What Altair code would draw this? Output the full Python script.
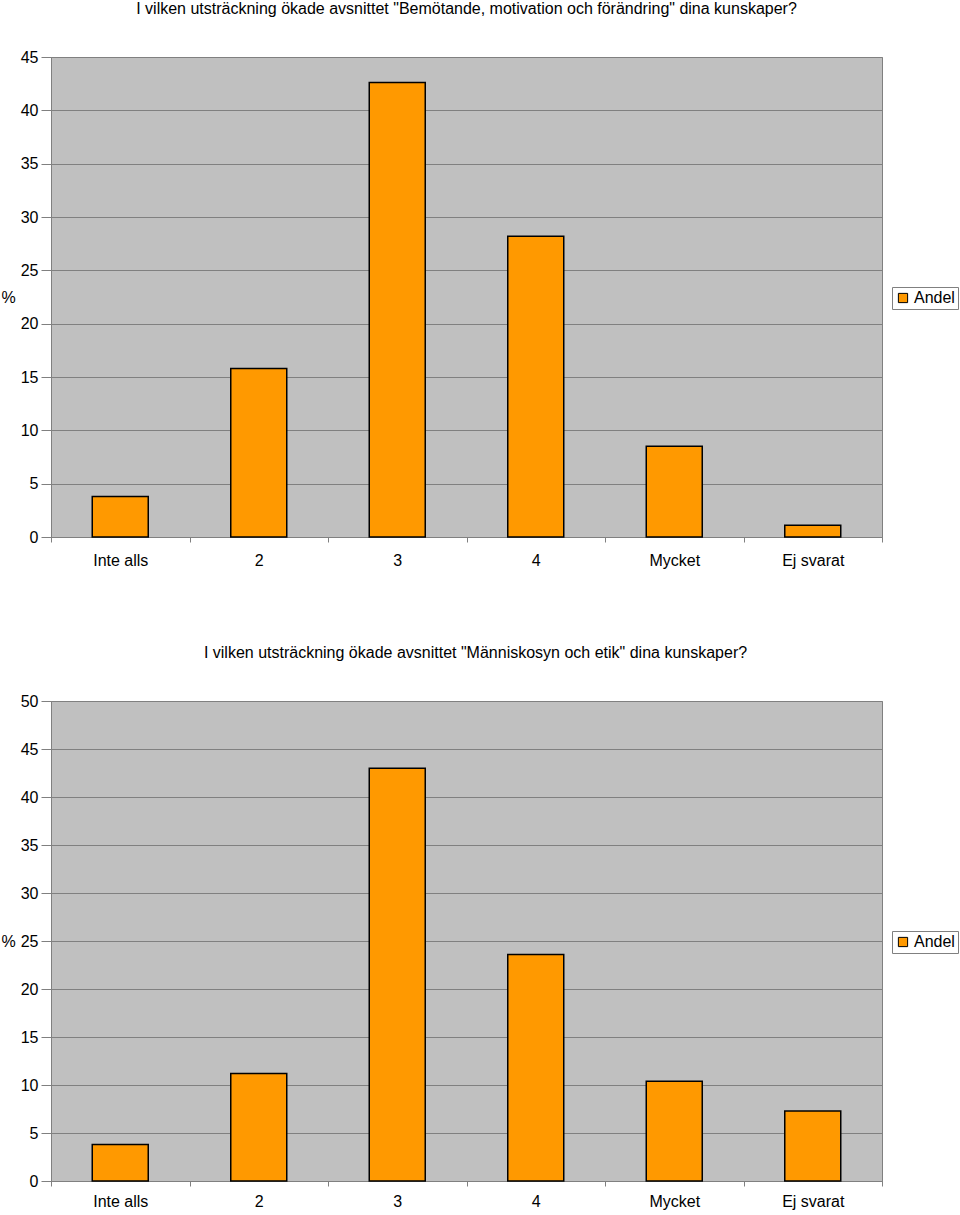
import altair as alt
import pandas as pd

categories = ["Inte alls", "2", "3", "4", "Mycket", "Ej svarat"]
andel_1 = [3.8, 15.8, 42.6, 28.2, 8.5, 1.1]
andel_2 = [3.8, 11.2, 43.0, 23.6, 10.4, 7.3]
y_ticks_1 = [0, 5, 10, 15, 20, 25, 30, 35, 40, 45]
y_ticks_2 = [0, 5, 10, 15, 20, 25, 30, 35, 40, 45, 50]
title_1 = 'I vilken utsträckning ökade avsnittet "Bemötande, motivation och förändring" dina kunskaper?'
title_2 = 'I vilken utsträckning ökade avsnittet "Människosyn och etik" dina kunskaper?'
series_name = "Andel"

FONT = "Liberation Sans"


def panel(values, ymax, yticks, title, dx, label_pad):
    df = pd.DataFrame({"kategori": categories, "andel": values, "serie": series_name})
    return (
        alt.Chart(
            df,
            title=alt.TitleParams(
                title, fontSize=16, font=FONT, fontWeight="normal", color="black",
                anchor="middle", dx=dx, offset=32,
            ),
        )
        .mark_bar(size=56, stroke="black", strokeWidth=1.5)
        .encode(
            x=alt.X(
                "kategori:N", sort=categories, title=None,
                scale=alt.Scale(paddingInner=0, paddingOuter=0),
                axis=alt.Axis(labelAngle=0, tickBand="extent", grid=False, tickSize=5,
                              labelPadding=label_pad, domainColor="#808080", tickColor="#808080"),
            ),
            y=alt.Y(
                "andel:Q", scale=alt.Scale(domain=[0, ymax], nice=False, zero=True),
                axis=alt.Axis(values=yticks, title="%", titleAngle=0, titleX=-43, titleY=240,
                              titleAlign="center", titleBaseline="middle", titleFontSize=16,
                              titleFont=FONT, titleFontWeight="normal", titleColor="black",
                              tickSize=10, labelPadding=3, grid=True, gridColor="#808080",
                              domainColor="#808080", tickColor="#808080"),
            ),
            color=alt.Color(
                "serie:N", scale=alt.Scale(range=["#FF9900"]),
                legend=alt.Legend(
                    title=None, orient="none", legendX=841, legendY=230,
                    strokeColor="#808080", fillColor="white", padding=3,
                    symbolType="square", symbolSize=85, symbolStrokeColor="black",
                    symbolStrokeWidth=1, labelFontSize=16, labelFont=FONT, labelColor="black",
                    labelOffset=3,
                ),
            ),
        )
        .properties(width=831, height=480)
    )


top = panel(andel_1, 45, y_ticks_1, title_1, 0, 10)
bottom = panel(andel_2, 50, y_ticks_2, title_2, 9, 7)

chart = (
    alt.vconcat(top, bottom, spacing=75)
    .resolve_scale(color="independent", y="independent")
    .resolve_legend(color="independent")
    .properties(padding={"left": 0, "top": 0, "right": 0, "bottom": 0}, background="white")
    .configure_view(fill="#C0C0C0", stroke="#808080", strokeWidth=1)
    .configure_axis(labelFont=FONT, labelFontSize=16, labelColor="black")
)

chart.save("out.html", embed_options={"renderer": "svg", "actions": False})
